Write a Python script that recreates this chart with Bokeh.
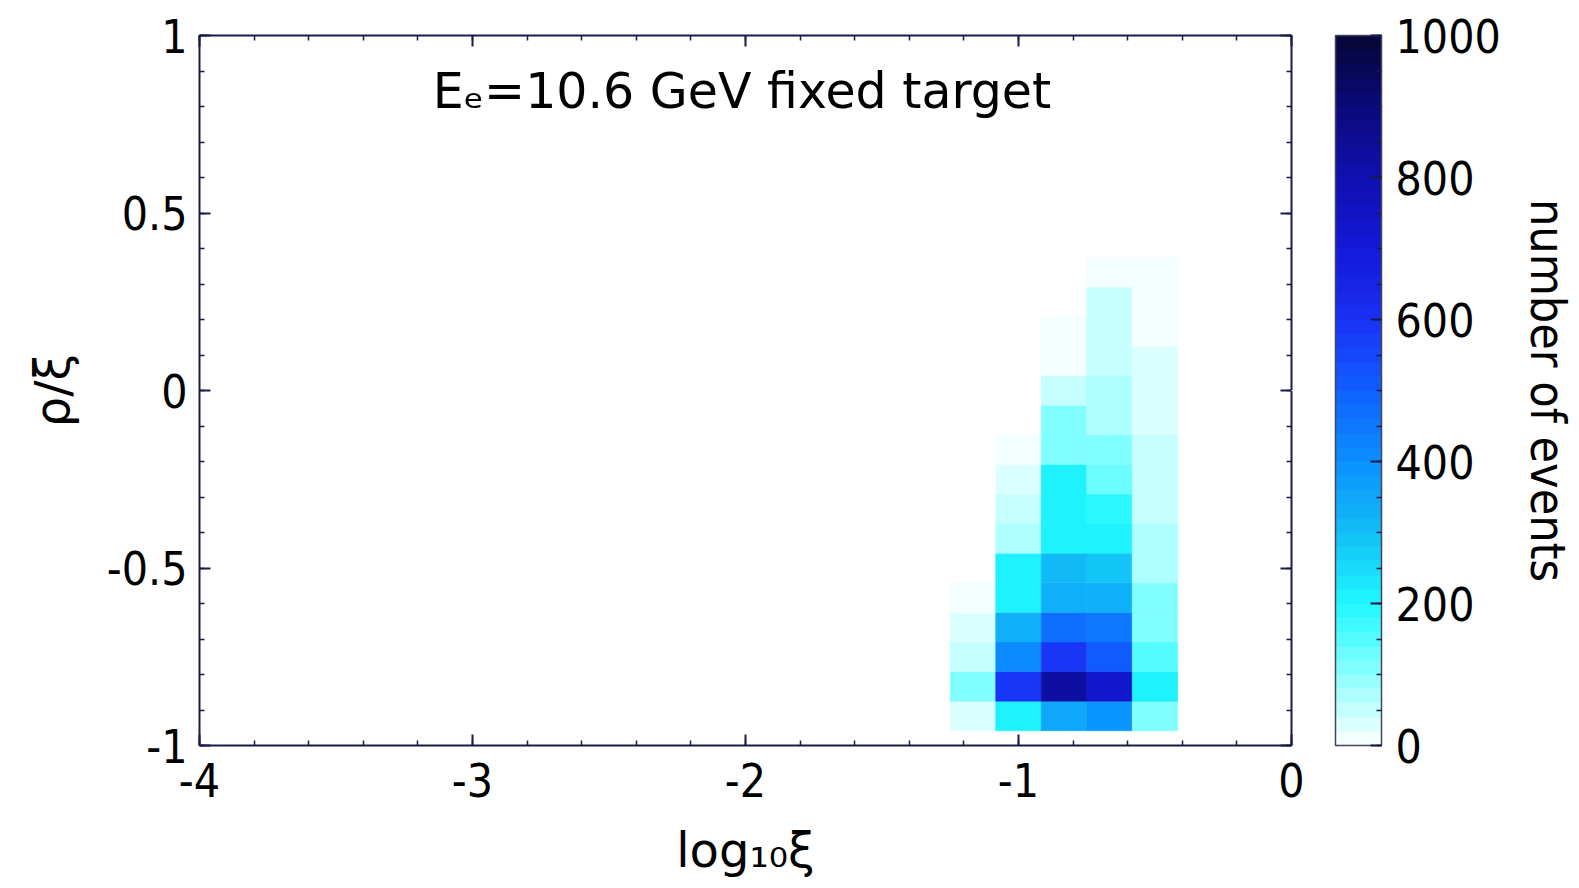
from bokeh.plotting import figure
from bokeh.models import (LinearAxis, SingleIntervalTicker, FixedTicker, ColorBar,
                          LinearColorMapper, ColumnDataSource, Label, Range1d)
from bokeh.embed import file_html
from bokeh.resources import INLINE

# ---------------- data ----------------
# bin centres of log10(xi) (columns) and rho/xi (rows, bottom to top)
xi_centers = [-1.1667, -1.0, -0.8333, -0.6667, -0.5]
rho_centers = [-0.9167, -0.8333, -0.75, -0.6667, -0.5833, -0.5, -0.4167, -0.3333,
               -0.25, -0.1667, -0.0833, 0.0, 0.0833, 0.1667, 0.25, 0.3333]
# number of events per cell: one row per rho bin (bottom -> top), one value per xi bin
counts = [
    [25, 200, 340, 380, 110],
    [110, 585, 820, 720, 200],
    [50, 410, 590, 510, 140],
    [25, 320, 470, 450, 110],
    [6, 215, 330, 330, 105],
    [0, 210, 305, 280, 65],
    [0, 70, 205, 200, 60],
    [0, 45, 200, 195, 55],
    [0, 22, 200, 120, 50],
    [0, 8, 110, 105, 40],
    [0, 0, 105, 75, 30],
    [0, 0, 55, 65, 30],
    [0, 0, 18, 55, 25],
    [0, 0, 5, 45, 15],
    [0, 0, 0, 40, 12],
    [0, 0, 0, 5, 8],
]
x_ticks = [-4, -3, -2, -1, 0]
x_tick_labels = ["-4", "-3", "-2", "-1", "0"]
y_ticks = [-1, -0.5, 0, 0.5, 1]
y_tick_labels = ["-1", "-0.5", "0", "0.5", "1"]
cb_low, cb_high = 0, 1000
title_text = "E\u2091=10.6 GeV fixed target"
x_label = "log\u2081\u2080\u03be"
y_label = "\u03c1/\u03be"
cb_label = "number of events"

# ---------------- style ----------------
FONT = "DejaVu Sans Condensed"
FONT_LAB = "DejaVu Sans"
AX = "#1b1b4b"
FS = "46px"

def hex2rgb(h):
    return tuple(int(h[i:i + 2], 16) for i in (1, 3, 5))

anchors = [(0.0, "#ffffff"), (0.1, "#8cffff"), (0.2, "#1ef8ff"), (0.3, "#12bef5"),
           (0.4, "#0a90ff"), (0.5, "#1060ff"), (0.6, "#1a30f5"), (0.7, "#1418d8"),
           (0.8, "#1010b0"), (0.9, "#0a0a7a"), (1.0, "#050535")]
palette = []
N = 50
for k in range(N):
    t = (k + 0.5) / N
    for (t0, c0), (t1, c1) in zip(anchors[:-1], anchors[1:]):
        if t0 <= t <= t1:
            f = (t - t0) / (t1 - t0)
            a, b = hex2rgb(c0), hex2rgb(c1)
            rgb = [round(a[i] + f * (b[i] - a[i])) for i in range(3)]
            palette.append("#%02x%02x%02x" % tuple(rgb))
            break

mapper = LinearColorMapper(palette=palette, low=cb_low, high=cb_high)

xs, ys, cs = [], [], []
for i, row in enumerate(counts):
    for j, c in enumerate(row):
        if c > 0:
            xs.append(xi_centers[j]); ys.append(rho_centers[i]); cs.append(c)
src = ColumnDataSource(dict(x=xs, y=ys, count=cs))
dx = xi_centers[1] - xi_centers[0]
dy = rho_centers[1] - rho_centers[0]

p = figure(width=1578, height=880, x_range=Range1d(-4, 0), y_range=Range1d(-1, 1),
           output_backend="svg", toolbar_location=None,
           min_border_left=199, min_border_right=287, min_border_top=35, min_border_bottom=133)
p.xgrid.visible = False
p.ygrid.visible = False
p.outline_line_color = None

p.rect(x="x", y="y", width=dx, height=dy, source=src,
       fill_color={"field": "count", "transform": mapper},
       line_color={"field": "count", "transform": mapper}, line_width=0.6)


def style_axis(ax):
    ax.axis_line_color = AX
    ax.axis_line_width = 2
    ax.major_tick_line_color = AX
    ax.major_tick_line_width = 2
    ax.minor_tick_line_color = AX
    ax.minor_tick_line_width = 1.5
    ax.major_tick_in = 11
    ax.major_tick_out = 0
    ax.minor_tick_in = 5
    ax.minor_tick_out = 0
    ax.major_label_text_font = FONT
    ax.major_label_text_font_size = FS
    ax.major_label_text_color = "black"
    ax.axis_label_text_font = FONT_LAB
    ax.axis_label_text_font_size = "48px"
    ax.axis_label_text_font_style = "normal"
    ax.axis_label_text_color = "black"


xt = SingleIntervalTicker(interval=1, num_minor_ticks=5)
yt = SingleIntervalTicker(interval=0.5, num_minor_ticks=5)

xa = p.xaxis[0]
xa.ticker = xt
xa.major_label_overrides = dict(zip(x_ticks, x_tick_labels))
style_axis(xa)
xa.major_label_standoff = 17
xa.axis_label = x_label
xa.axis_label_standoff = 22

ya = p.yaxis[0]
ya.ticker = yt
ya.major_label_overrides = dict(zip(y_ticks, y_tick_labels))
style_axis(ya)
ya.major_label_standoff = 12
ya.axis_label = y_label
ya.axis_label_standoff = 24

top = LinearAxis(ticker=SingleIntervalTicker(interval=1, num_minor_ticks=5))
style_axis(top)
top.major_label_text_font_size = "0px"
top.major_label_standoff = 0
top.major_label_overrides = {t: "" for t in x_ticks}
p.add_layout(top, "above")

right = LinearAxis(ticker=SingleIntervalTicker(interval=0.5, num_minor_ticks=5))
style_axis(right)
right.major_label_text_font_size = "0px"
right.major_label_standoff = 0
right.major_label_overrides = {t: "" for t in y_ticks}
p.add_layout(right, "right")

# blank spacer between the frame and the colour bar (one white outward tick)
spacer = LinearAxis(ticker=FixedTicker(ticks=[0]), axis_line_color=None,
                    major_tick_line_color="white", minor_tick_line_color=None,
                    major_tick_in=0, major_tick_out=44, minor_tick_in=0, minor_tick_out=0,
                    major_label_standoff=0, major_label_text_font_size="0px",
                    major_label_overrides={0: ""})
p.add_layout(spacer, "right")

cb = ColorBar(color_mapper=mapper, width=46, padding=0, margin=0,
              ticker=SingleIntervalTicker(interval=200, num_minor_ticks=4),
              major_label_text_font=FONT, major_label_text_font_size=FS,
              major_label_text_color="black",
              major_tick_in=11, major_tick_out=0, minor_tick_in=5, minor_tick_out=0,
              major_tick_line_color=AX, major_tick_line_width=2,
              minor_tick_line_color=AX, minor_tick_line_width=1.5,
              bar_line_color="#44445e", bar_line_width=1.5,
              border_line_color=None, background_fill_color=None,
              label_standoff=14)
p.add_layout(cb, "right")

lab = LinearAxis(ticker=FixedTicker(ticks=[]), axis_label=cb_label)
style_axis(lab)
lab.axis_label_text_font = FONT
lab.axis_line_color = None
lab.major_tick_line_color = None
lab.minor_tick_line_color = None
lab.major_label_text_font_size = "0px"
lab.major_label_standoff = 0
lab.axis_label_standoff = 16
p.add_layout(lab, "right")

p.add_layout(Label(x=-2.013, y=0.841, text=title_text, text_align="center",
                   text_baseline="alphabetic", text_font=FONT_LAB,
                   text_font_size="49px", text_color="black"))

open("out.html", "w").write(file_html(p, INLINE))
